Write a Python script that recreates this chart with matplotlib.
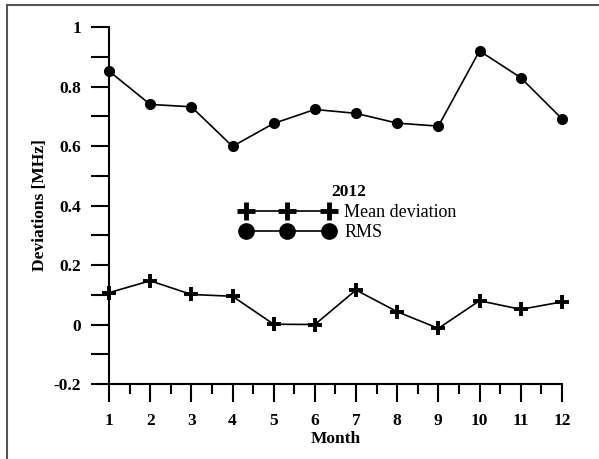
import matplotlib
matplotlib.use("Agg")
import matplotlib.pyplot as plt
from matplotlib.lines import Line2D
from matplotlib.ticker import MultipleLocator, FuncFormatter

plt.rcParams['font.family'] = ['Liberation Serif', 'DejaVu Serif']

# monthly deviations, 2012
months = [1, 2, 3, 4, 5, 6, 7, 8, 9, 10, 11, 12]
mean_dev = [0.107, 0.147, 0.101, 0.095, 0.001, 0.000, 0.116, 0.043, -0.013, 0.080, 0.051, 0.076]
rms = [0.852, 0.740, 0.732, 0.599, 0.676, 0.723, 0.710, 0.677, 0.667, 0.920, 0.830, 0.692]

fig = plt.figure(figsize=(5.99, 4.59), dpi=100)

# partial frame around the figure (top and left)
fig.add_artist(Line2D([0.0125, 1.0], [0.989, 0.989], color='#555555', lw=1.5,
                      transform=fig.transFigure))
fig.add_artist(Line2D([0.0125, 0.0125], [0.0, 0.989], color='#555555', lw=1.5,
                      transform=fig.transFigure))

ax = fig.add_axes([0.182, 0.1634, 0.756, 0.7776])

ax.plot(months, mean_dev, color='black', lw=1.2, marker='+', markersize=10,
        markeredgewidth=2.8, clip_on=False, zorder=3)
ax.plot(months, rms, color='black', lw=1.2, marker='o', markersize=7,
        clip_on=False, zorder=3)

ax.set_xlim(1, 12)
ax.set_ylim(-0.2, 1.0)
ax.spines['top'].set_visible(False)
ax.spines['right'].set_visible(False)
ax.spines['left'].set_linewidth(1.5)
ax.spines['bottom'].set_linewidth(1.5)

ax.xaxis.set_major_locator(MultipleLocator(1))
ax.xaxis.set_minor_locator(MultipleLocator(0.5))
ax.yaxis.set_major_locator(MultipleLocator(0.2))
ax.yaxis.set_minor_locator(MultipleLocator(0.1))
ax.yaxis.set_major_formatter(FuncFormatter(lambda v, p: '%g' % round(v, 1)))
ax.tick_params(axis='y', which='major', direction='out', length=13, width=1.5,
               labelsize=12.5, pad=7)
ax.tick_params(axis='x', which='major', direction='out', length=13, width=1.5,
               labelsize=12.5, pad=8)
ax.tick_params(axis='x', which='minor', direction='out', length=7, width=1.5)
ax.tick_params(axis='y', which='minor', direction='out', length=13, width=1.5)
for lab in ax.get_xticklabels() + ax.get_yticklabels():
    lab.set_fontweight('bold')

ax.set_xlabel('Month', fontsize=12.5, fontweight='bold', labelpad=1)
ax.set_ylabel('Deviations [MHz]', fontsize=12.5, fontweight='bold', labelpad=4)

handles = [
    Line2D([], [], color='black', lw=1.2, marker='+', markersize=13, markeredgewidth=3.5),
    Line2D([], [], color='black', lw=1.2, marker='o', markersize=11),
]
leg = ax.legend(handles, ['Mean deviation', 'RMS'], title='2012', loc='upper left',
                bbox_to_anchor=(0.262, 0.595), frameon=False, numpoints=3,
                handlelength=5.2, fontsize=13,
                title_fontproperties={'weight': 'bold', 'size': 12.5},
                labelspacing=0.2, handletextpad=0.55, borderpad=0.2)

fig.savefig('out.png', dpi=100)
